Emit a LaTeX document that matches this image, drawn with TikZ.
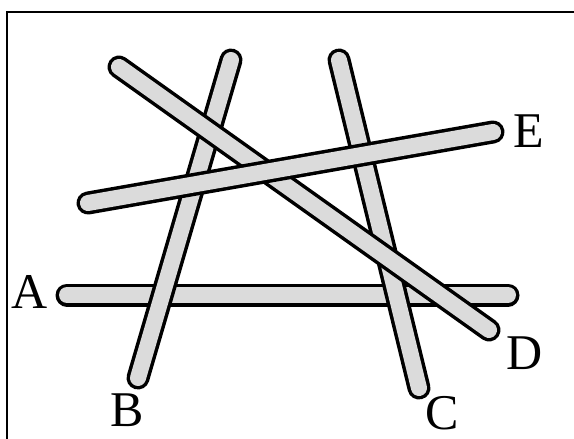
\documentclass[tikz,border=0pt]{standalone}
\usepackage{fontspec}
\setmainfont{Liberation Serif}
\begin{document}
\begin{tikzpicture}[x=1pt,y=-1pt,
 rodout/.style={line width=23pt,line cap=round,draw=black},
 rodin/.style={line width=16pt,line cap=round,draw=rodfill},
 lbl/.style={font=\fontsize{50}{50}\selectfont,inner sep=0pt}]
\definecolor{rodfill}{gray}{0.86}
\useasboundingbox (0,0) rectangle (574,439);
\clip (0,0) rectangle (574,439);
\draw[line width=2.5pt] (7,470) -- (7,12) -- (600,12);
% rod ends
\coordinate (a1) at (67,295);  \coordinate (a2) at (508,295);
\coordinate (b1) at (231,60);  \coordinate (b2) at (138,378);
\coordinate (c1) at (339,60);  \coordinate (c2) at (419,388);
\coordinate (d1) at (119,67);  \coordinate (d2) at (489,330);
\coordinate (e1) at (88,203);  \coordinate (e2) at (493,132);
% rods, bottom to top
\foreach \r in {a,b,c,d,e}{
  \draw[rodout] (\r1) -- (\r2);
  \draw[rodin] (\r1) -- (\r2);
}
% labels
\node[lbl] (la) at (30,292) {A};
\node[lbl] (lb) at (127,410) {B};
\node[lbl] (lc) at (442,413) {C};
\node[lbl] (ld) at (525,353) {D};
\node[lbl] (le) at (529,131) {E};
\end{tikzpicture}
\end{document}
